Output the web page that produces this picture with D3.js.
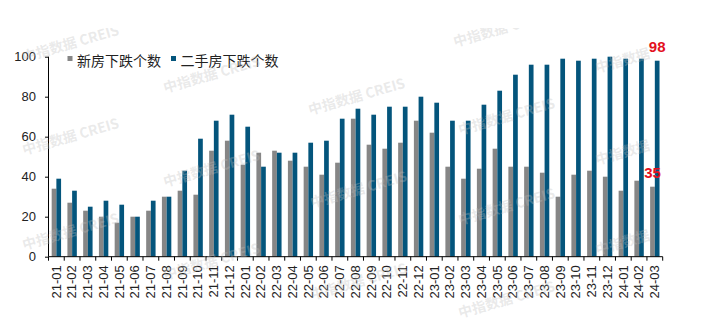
<!DOCTYPE html>
<html>
<head>
<meta charset="utf-8">
<script src="https://cdn.jsdelivr.net/npm/d3@7/dist/d3.min.js"></script>
<style>
  html, body { margin: 0; padding: 0; background: #fff; }
  svg { display: block; }
</style>
</head>
<body>
<svg id="chart" width="706" height="326"></svg>
<script>
// Months (yy-mm)
const months = ["21-01","21-02","21-03","21-04","21-05","21-06","21-07","21-08","21-09","21-10","21-11","21-12",
  "22-01","22-02","22-03","22-04","22-05","22-06","22-07","22-08","22-09","22-10","22-11","22-12",
  "23-01","23-02","23-03","23-04","23-05","23-06","23-07","23-08","23-09","23-10","23-11","23-12",
  "24-01","24-02","24-03"];

// Number of cities with month-on-month price declines: new homes
const newHomes = [34,27,23,20,17,20,23,30,33,31,53,58,
  46,52,53,48,45,41,47,69,56,54,57,68,
  62,45,39,44,54,45,45,42,30,41,43,40,
  33,38,35];

// Number of cities with month-on-month price declines: second-hand homes
const secondHand = [39,33,25,28,26,20,28,30,43,59,68,71,
  65,45,52,52,57,58,69,74,71,75,75,80,
  77,68,68,76,83,91,96,96,99,98,99,100,
  99,99,98];

const seriesNames = ["新房下跌个数", "二手房下跌个数"];
const seriesColors = ["#868686", "#04557c"];
const yTicks = [0, 20, 40, 60, 80, 100];
const watermarkText = "中指数据 CREIS";

(function () {
const svg = d3.select("#chart");
const W = 706, H = 326;
const mLeft = 48.5, mRight = 662.7, mTop = 56.7, mBottom = 256.7;

svg.append("rect").attr("width", W).attr("height", H).attr("fill", "#fff");

const x = d3.scaleBand().domain(months).range([mLeft, mRight]).padding(0);
const y = d3.scaleLinear().domain([0, 100]).range([mBottom, mTop]);
const barW = 4.7;

// Bars: new homes on the left half of each band, second-hand on the right
const plot = svg.append("g");
[newHomes, secondHand].forEach((vals, si) => {
  plot.append("g").selectAll("rect")
    .data(vals)
    .join("rect")
    .attr("x", (d, i) => x(months[i]) + x.bandwidth() / 2 + (si === 0 ? -barW : 0))
    .attr("y", d => y(d))
    .attr("width", barW)
    .attr("height", d => y(0) - y(d))
    .attr("fill", seriesColors[si]);
});

// Y axis
const yAxis = svg.append("g")
  .attr("transform", `translate(${mLeft},0)`)
  .call(d3.axisLeft(y).tickValues(yTicks).tickSize(3.5).tickPadding(9).tickFormat(d3.format("d")));
yAxis.select(".domain").attr("stroke", "#000").attr("d", `M0,${mTop}V${mBottom}`);
yAxis.selectAll(".tick line").attr("stroke", "#000");
yAxis.selectAll("text").attr("font-family", "'Liberation Sans', Arial, sans-serif")
  .attr("font-size", 13).attr("fill", "#222");

// X axis: line, ticks at band boundaries, rotated labels
const xg = svg.append("g");
xg.append("line").attr("x1", mLeft).attr("x2", mRight).attr("y1", mBottom).attr("y2", mBottom)
  .attr("stroke", "#000");
const bounds = months.map(m => x(m)).concat([mRight]);
xg.selectAll("line.tk").data(bounds).join("line").attr("class", "tk")
  .attr("x1", d => d).attr("x2", d => d).attr("y1", mBottom).attr("y2", mBottom + 4)
  .attr("stroke", "#000");
xg.selectAll("text").data(months).join("text")
  .attr("transform", d => `translate(${x(d) + x.bandwidth() / 2 - 0.4},${mBottom + 8.5}) rotate(-90)`)
  .attr("text-anchor", "end")
  .attr("dy", "0.36em")
  .attr("font-family", "'Liberation Sans', Arial, sans-serif")
  .attr("font-size", 13)
  .attr("fill", "#222")
  .text(d => d);

// Legend
const legend = svg.append("g").attr("font-family", "'Noto Sans CJK SC', sans-serif").attr("font-size", 14);
const legendX = [67.5, 171];
seriesNames.forEach((name, i) => {
  legend.append("rect").attr("x", legendX[i]).attr("y", 56).attr("width", 5).attr("height", 5)
    .attr("fill", seriesColors[i]);
  legend.append("text").attr("x", legendX[i] + 9.5).attr("y", 59.5)
    .attr("dominant-baseline", "central").attr("fill", "#222").text(name);
});

// Value labels on the latest month
const last = months.length - 1;
const labelData = [
  { v: newHomes[last], xPos: x(months[last]) + x.bandwidth() / 2 - barW / 2 },
  { v: secondHand[last], xPos: x(months[last]) + x.bandwidth() / 2 + barW / 2 }
];
svg.append("g").selectAll("text").data(labelData).join("text")
  .attr("x", d => d.xPos)
  .attr("y", d => y(d.v) - 9)
  .attr("text-anchor", "middle")
  .attr("font-family", "'Liberation Sans Narrow', 'Arial Narrow', sans-serif")
  .attr("font-weight", "bold")
  .attr("font-size", 15)
  .attr("fill", "#e3101e")
  .text(d => d.v);

// Tiled watermark
const wmPos = [
  [24, 62], [24, 155], [24, 250],
  [165, 93], [165, 187], [165, 280],
  [310, 115], [312, 208], [312, 300],
  [455, 47], [460, 135], [460, 225], [460, 318],
  [597, 73], [597, 165], [597, 255]
];
svg.append("clipPath").attr("id", "wmclip").append("rect")
  .attr("x", 0).attr("y", 28).attr("width", 652).attr("height", 298);
svg.append("g").attr("clip-path", "url(#wmclip)")
  .selectAll("text").data(wmPos).join("text")
  .attr("transform", d => `translate(${d[0]},${d[1]}) rotate(-16)`)
  .attr("font-family", "'Noto Sans CJK SC', sans-serif")
  .attr("font-weight", "bold")
  .attr("font-size", 14)
  .attr("fill", "rgba(190,190,190,0.32)")
  .text(watermarkText);
})();
</script>
</body>
</html>
